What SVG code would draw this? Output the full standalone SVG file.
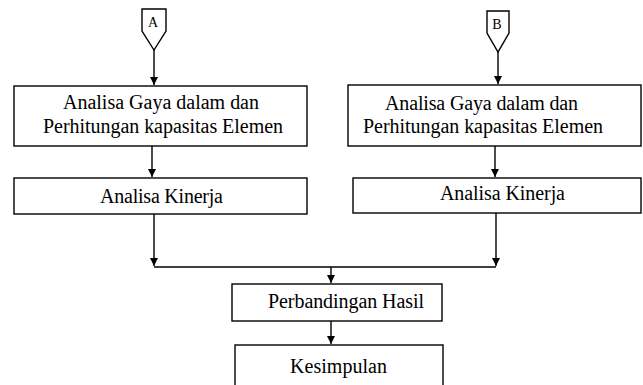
<svg xmlns="http://www.w3.org/2000/svg" width="643" height="385" viewBox="0 0 643 385">
<style>
.box{fill:#fff;stroke:#000;stroke-width:1.4}
.t{font-family:'Liberation Serif','Times New Roman',Times,serif;font-size:20px;fill:#000}
.s{font-family:'Liberation Serif','Times New Roman',Times,serif;font-size:14px;fill:#000;text-anchor:middle}
.c{fill:none;stroke:#000;stroke-width:1.4}
</style>
<defs>
<marker id="ah" markerUnits="userSpaceOnUse" markerWidth="10" markerHeight="10" refX="8" refY="4" orient="auto">
<path d="M0,0 L8,4 L0,8 Z" fill="#000"/>
</marker>
</defs>
<rect width="643" height="385" fill="#fff"/>
<g id="connA"><path class="box" d="M142,9 H166 V31 L154,50 L142,31 Z"/><text class="s" x="153" y="27">A</text></g>
<g id="connB"><path class="box" d="M487,11 H509 V33 L498,52 L487,33 Z"/><text class="s" x="497" y="29">B</text></g>
<g id="left1"><rect class="box" x="14" y="86" width="293" height="60"/>
<text class="t" x="63" y="109" textLength="196">Analisa Gaya dalam dan</text>
<text class="t" x="43" y="133" textLength="240">Perhitungan kapasitas Elemen</text></g>
<g id="left2"><rect class="box" x="14" y="178" width="293" height="36"/>
<text class="t" x="100" y="203" textLength="123">Analisa Kinerja</text></g>
<g id="right1"><rect class="box" x="348" y="85" width="293" height="61"/>
<text class="t" x="385" y="110" textLength="193">Analisa Gaya dalam dan</text>
<text class="t" x="363" y="133" textLength="240">Perhitungan kapasitas Elemen</text></g>
<g id="right2"><rect class="box" x="353" y="178" width="288" height="35"/>
<text class="t" x="440" y="200" textLength="125">Analisa Kinerja</text></g>
<g id="compare"><rect class="box" x="232" y="284" width="210" height="37"/>
<text class="t" x="268" y="308" textLength="156">Perbandingan Hasil</text></g>
<g id="conclusion"><rect class="box" x="235" y="345" width="208" height="50"/>
<text class="t" x="290" y="373" textLength="97">Kesimpulan</text></g>
<g id="connectors">
<path class="c" d="M154,50 V85" marker-end="url(#ah)"/>
<path class="c" d="M498,52 V84" marker-end="url(#ah)"/>
<path class="c" d="M152,146 V177" marker-end="url(#ah)"/>
<path class="c" d="M495,146 V177" marker-end="url(#ah)"/>
<path class="c" d="M154,214 V266" marker-end="url(#ah)"/>
<path class="c" d="M496,213 V266" marker-end="url(#ah)"/>
<path class="c" d="M154,267 H496"/>
<path class="c" d="M331,267 V283" marker-end="url(#ah)"/>
<path class="c" d="M331,321 V344" marker-end="url(#ah)"/>
</g>
</svg>
